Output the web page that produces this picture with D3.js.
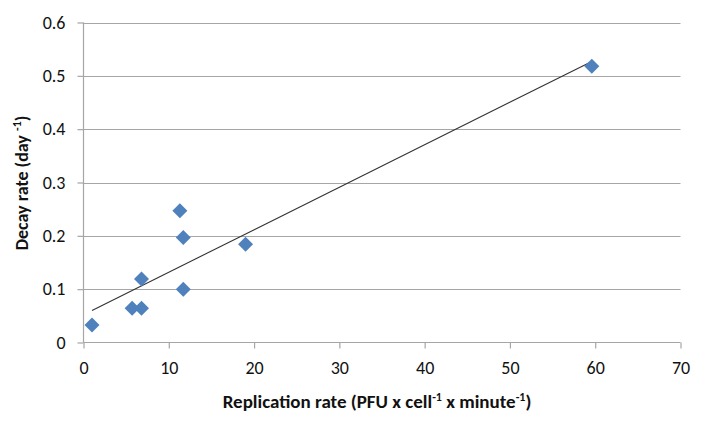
<!DOCTYPE html>
<html><head><meta charset="utf-8">
<script src="https://cdn.jsdelivr.net/npm/d3@7"></script>
<style>body{margin:0;background:#fff}svg{display:block}</style>
</head><body>
<svg id="c" width="705" height="428"></svg>
<script>
const xValues = [1.0, 5.7, 6.8, 6.8, 11.3, 11.7, 11.7, 19.0, 59.6];
const yValues = [0.033, 0.064, 0.064, 0.119, 0.247, 0.197, 0.100, 0.184, 0.518];
const trendX = [1.0, 59.6];
const trendY = [0.060, 0.527];
const xTicks = [0, 10, 20, 30, 40, 50, 60, 70];
const yTicks = [0, 0.1, 0.2, 0.3, 0.4, 0.5, 0.6];

const svg = d3.select("#c");
const L = 83.5, R = 680.5, T = 22.5, B = 342.5;
const x = d3.scaleLinear().domain([0, 70]).range([L, R]);
const y = d3.scaleLinear().domain([0, 0.6]).range([B, T]);
const font = "Calibri, Carlito, Lato, 'Open Sans', sans-serif";
const grid = "#a6a6a6";

// horizontal gridlines
svg.append("g").selectAll("line").data(yTicks.slice(1)).join("line")
  .attr("x1", L).attr("x2", R)
  .attr("y1", d => Math.round(y(d)) + 0.5).attr("y2", d => Math.round(y(d)) + 0.5)
  .attr("stroke", grid).attr("stroke-width", 1.2);

// y axis
const ya = svg.append("g").attr("transform", `translate(${L},0)`)
  .call(d3.axisLeft(y).tickValues(yTicks).tickSize(6).tickPadding(12).tickFormat(d => d === 0 ? "0" : d3.format(".1f")(d)));
// x axis
const xa = svg.append("g").attr("transform", `translate(0,${B})`)
  .call(d3.axisBottom(x).tickValues(xTicks).tickSize(6).tickPadding(13).tickFormat(d3.format("d")));
[ya, xa].forEach(a => {
  a.select(".domain").attr("stroke", grid).attr("stroke-width", 1.2);
  a.selectAll(".tick line").attr("stroke", grid).attr("stroke-width", 1.2);
  a.selectAll("text").attr("font-family", font).attr("font-size", 18).attr("fill", "#111");
});
xa.select(".domain").attr("d", `M${L},0H${R}`);
ya.select(".domain").attr("d", `M0,${B}V${T}`);

// trendline
svg.append("line")
  .attr("x1", x(trendX[0])).attr("y1", y(trendY[0]))
  .attr("x2", x(trendX[1])).attr("y2", y(trendY[1]))
  .attr("stroke", "#333").attr("stroke-width", 1.1);

// points
const pts = xValues.map((v, i) => ({x: v, y: yValues[i]}));
const s = 7.5;
svg.append("g").selectAll("path").data(pts).join("path")
  .attr("d", d => `M${x(d.x)},${y(d.y)-s}L${x(d.x)+s},${y(d.y)}L${x(d.x)},${y(d.y)+s}L${x(d.x)-s},${y(d.y)}Z`)
  .attr("fill", "#4f81bd");

// x title
const xt = svg.append("text").attr("x", 377).attr("y", 408).attr("text-anchor", "middle")
  .attr("font-family", font).attr("font-size", 19).attr("font-weight", "bold").attr("fill", "#111");
xt.append("tspan").text("Replication rate (PFU x cell");
xt.append("tspan").text("-1").attr("font-size", 12).attr("dy", -7);
xt.append("tspan").text(" x minute").attr("dy", 7);
xt.append("tspan").text("-1").attr("font-size", 12).attr("dy", -7);
xt.append("tspan").text(")").attr("dy", 7);

// y title
const yt = svg.append("text").attr("transform", "translate(28,183) rotate(-90)").attr("text-anchor", "middle")
  .attr("font-family", font).attr("font-size", 18).attr("font-weight", "bold").attr("fill", "#111");
yt.append("tspan").text("Decay rate (day ");
yt.append("tspan").text("-1").attr("font-size", 12).attr("dy", -7);
yt.append("tspan").text(")").attr("dy", 7);
</script>
</body></html>
